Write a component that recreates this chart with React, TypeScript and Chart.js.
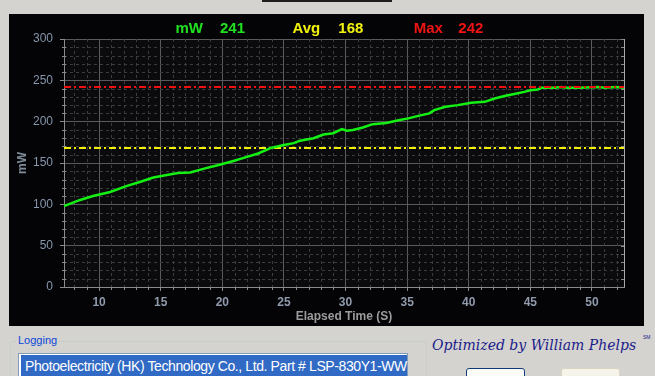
import React, { useEffect, useRef } from 'react';
import { Chart, registerables } from 'chart.js';

Chart.register(...registerables);

// ---- data ----
const timeSeconds = [7.15, 8.4, 9.5, 10.9, 12.2, 13.3, 14.4, 15.5, 16.4, 17.4, 18.6, 19.7, 20.9, 21.8, 22.9, 24.0, 25.1, 25.8, 26.3, 27.4, 28.2, 29.0, 29.7, 30.1, 30.6, 31.4, 32.2, 33.3, 34.4, 35.1, 35.9, 36.8, 37.2, 38.1, 39.1, 40.2, 41.3, 42.1, 42.9, 43.7, 44.5, 45.0, 45.6, 45.9, 47.0, 47.5, 48.0, 49.0, 50.5, 51.0, 52.0, 52.6];
const powerMw = [98, 105, 110, 115, 122, 127, 132.5, 135.5, 138, 138.5, 143.5, 147.5, 152.5, 156.5, 161.5, 168.5, 172, 174, 177, 180, 184.5, 186, 191, 189, 190, 193, 197, 198.5, 202, 204, 207, 210, 214, 218, 220, 223, 224, 228, 231, 233.5, 236, 238, 239, 241, 241, 242, 241, 241, 242, 241, 242, 241];
const currentMw = 241;
const avgMw = 168;
const maxMw = 242;
const xMin = 7.15;
const xMax = 52.6;
const yMin = 0;
const yMax = 300;
const xMajorTicks = [10, 15, 20, 25, 30, 35, 40, 45, 50];
const xMinorTicks = [8, 9, 11, 12, 13, 14, 16, 17, 18, 19, 21, 22, 23, 24, 26, 27, 28, 29, 31, 32, 33, 34, 36, 37, 38, 39, 41, 42, 43, 44, 46, 47, 48, 49, 51, 52];
const yMajorTicks = [0, 50, 100, 150, 200, 250, 300];
const yMinorTicks = [10, 20, 30, 40, 60, 70, 80, 90, 110, 120, 130, 140, 160, 170, 180, 190, 210, 220, 230, 240, 260, 270, 280, 290];
const xTitle = 'Elapsed Time (S)';
const yTitle = 'mW';
const loggingText = 'Photoelectricity (HK) Technology Co., Ltd. Part # LSP-830Y1-WW';

const FONT = '"Liberation Sans", Arial, sans-serif';

const panelPlugin = {
  id: 'panelPlugin',
  beforeDraw(chart: any) {
    const { ctx, chartArea: a, width, height } = chart;
    ctx.save();
    ctx.fillStyle = '#040407';
    ctx.fillRect(0, 0, width, height);
    ctx.fillStyle = '#0b0b0e';
    ctx.fillRect(a.left, a.top, a.right - a.left, a.bottom - a.top);
    ctx.restore();
  },
  beforeDatasetsDraw(chart: any) {
    const { ctx, chartArea: a, scales } = chart;
    const x = scales.x;
    const y = scales.y;
    ctx.save();
    ctx.lineWidth = 1;
    ctx.strokeStyle = '#3c3c3c';
    ctx.setLineDash([3, 3]);
    for (const v of xMinorTicks) {
      const px = Math.round(x.getPixelForValue(v)) + 0.5;
      ctx.beginPath();
      ctx.moveTo(px, a.top);
      ctx.lineTo(px, a.bottom);
      ctx.stroke();
    }
    for (const v of yMinorTicks) {
      const py = Math.round(y.getPixelForValue(v)) + 0.5;
      ctx.beginPath();
      ctx.moveTo(a.left, py);
      ctx.lineTo(a.right, py);
      ctx.stroke();
    }
    ctx.setLineDash([]);
    ctx.strokeStyle = '#8a8a8a';
    for (const v of xMinorTicks) {
      const px = Math.round(x.getPixelForValue(v)) + 0.5;
      ctx.beginPath();
      ctx.moveTo(px, a.bottom);
      ctx.lineTo(px, a.bottom + 3);
      ctx.stroke();
    }
    for (const v of yMinorTicks) {
      const py = Math.round(y.getPixelForValue(v)) + 0.5;
      ctx.beginPath();
      ctx.moveTo(a.left - 2, py);
      ctx.lineTo(a.left + 2, py);
      ctx.stroke();
    }
    for (const v of [...yMinorTicks, ...yMajorTicks]) {
      const py = Math.round(y.getPixelForValue(v)) + 0.5;
      ctx.beginPath();
      ctx.moveTo(a.right - 3, py);
      ctx.lineTo(a.right, py);
      ctx.stroke();
    }
    ctx.strokeStyle = '#a8a8a8';
    const rx = Math.round(a.right) + 0.5;
    ctx.beginPath();
    ctx.moveTo(rx, a.top);
    ctx.lineTo(rx, a.bottom);
    ctx.stroke();
    ctx.restore();
  },
};

function PowerChart() {
  const ref = useRef<HTMLCanvasElement | null>(null);
  useEffect(() => {
    if (!ref.current) return;
    const chart = new Chart(ref.current, {
      type: 'line',
      data: {
        datasets: [
          {
            label: 'Max',
            data: [{ x: xMin, y: maxMw }, { x: xMax, y: maxMw }],
            borderColor: '#f01010',
            borderWidth: 2,
            borderDash: [7, 3, 2, 3],
            pointRadius: 0,
          },
          {
            label: 'mW',
            data: timeSeconds.map((t, i) => ({ x: t, y: powerMw[i] })),
            borderColor: '#14f014',
            borderWidth: 2.5,
            pointRadius: 0,
            tension: 0,
          },
          {
            label: 'Avg',
            data: [{ x: xMin, y: avgMw }, { x: xMax, y: avgMw }],
            borderColor: '#f0f000',
            borderWidth: 2,
            borderDash: [7, 3, 2, 3],
            pointRadius: 0,
          },
        ],
      },
      options: {
        animation: false,
        responsive: true,
        maintainAspectRatio: false,
        layout: { padding: { top: 25, right: 20, bottom: 0, left: 0 } },
        plugins: { legend: { display: false }, tooltip: { enabled: false } },
        scales: {
          x: {
            type: 'linear',
            min: xMin,
            max: xMax,
            afterBuildTicks: (s: any) => {
              s.ticks = xMajorTicks.map((v) => ({ value: v }));
            },
            afterFit: (s: any) => {
              s.height = 39;
            },
            grid: { color: '#5a5a5a', lineWidth: 1, tickLength: 4, tickColor: '#8a8a8a' },
            border: { color: '#8a8a8a', width: 1 },
            ticks: {
              color: '#8f9aab',
              font: { family: FONT, size: 12, weight: 'bold' },
              padding: 4,
              autoSkip: false,
              maxRotation: 0,
            },
            title: {
              display: true,
              text: xTitle,
              color: '#9c9c9c',
              font: { family: FONT, size: 12, weight: 'bold' },
              padding: { top: 0, bottom: 2.5 },
            },
          },
          y: {
            type: 'linear',
            min: yMin,
            max: yMax,
            afterBuildTicks: (s: any) => {
              s.ticks = yMajorTicks.map((v) => ({ value: v }));
            },
            afterFit: (s: any) => {
              s.width = 55;
            },
            grid: { color: '#5a5a5a', lineWidth: 1, tickLength: 4, tickColor: '#8a8a8a' },
            border: { color: '#8a8a8a', width: 1 },
            ticks: {
              color: '#8796aa',
              font: { family: FONT, size: 12 },
              padding: 7,
            },
            title: {
              display: true,
              text: yTitle,
              color: '#7f8c9a',
              font: { family: FONT, size: 12, weight: 'bold' },
              padding: { top: 6.5, bottom: 0 },
            },
          },
        },
      },
      plugins: [panelPlugin],
    } as any);
    return () => chart.destroy();
  }, []);
  return (
    <div style={{ position: 'absolute', left: 0, top: 0, width: 635, height: 312 }}>
      <canvas ref={ref} />
    </div>
  );
}

const headerItems = [
  { text: 'mW', left: 166.5, color: '#22e022' },
  { text: String(currentMw), left: 211, color: '#22e022' },
  { text: 'Avg', left: 283.5, color: '#f2f20c' },
  { text: String(avgMw), left: 329.3, color: '#f2f20c' },
  { text: 'Max', left: 404.7, color: '#f01414' },
  { text: String(maxMw), left: 449.3, color: '#f01414' },
];

export default function App() {
  return (
    <div
      style={{
        position: 'fixed',
        left: 0,
        top: 0,
        width: 655,
        height: 376,
        overflow: 'hidden',
        background: '#d5d3d0',
        fontFamily: FONT,
      }}
    >
      <div style={{ position: 'absolute', left: 262, top: 0, width: 130, height: 2, background: '#1c1c1c' }} />
      <div style={{ position: 'absolute', left: 9, top: 14, width: 635, height: 312, background: '#040407' }}>
        <PowerChart />
        {headerItems.map((h) => (
          <span
            key={h.text + h.left}
            style={{
              position: 'absolute',
              left: h.left,
              top: 5.8,
              color: h.color,
              font: `bold 15px ${FONT}`,
              lineHeight: '15px',
              whiteSpace: 'nowrap',
            }}
          >
            {h.text}
          </span>
        ))}
      </div>
      {/* Logging group box */}
      <div
        style={{
          position: 'absolute',
          left: 10,
          top: 341,
          width: 415,
          height: 60,
          border: '1px dotted #b9cdb6',
          borderRadius: 3,
        }}
      />
      <span
        style={{
          position: 'absolute',
          left: 16,
          top: 333,
          padding: '0 2px',
          background: '#d5d3d0',
          color: '#0a46d8',
          font: `11px ${FONT}`,
          lineHeight: '14px',
        }}
      >
        Logging
      </span>
      <div
        style={{
          position: 'absolute',
          left: 18,
          top: 353,
          width: 388,
          height: 30,
          border: '1px solid #7f9db9',
          background: '#ffffff',
        }}
      >
        <div
          style={{
            position: 'absolute',
            left: 2,
            top: 1,
            width: 386,
            height: 28,
            background: '#316ac5',
          }}
        />
        <span
          style={{
            position: 'absolute',
            left: 6,
            top: 2,
            color: '#ffffff',
            font: `14px ${FONT}`,
            letterSpacing: '-0.4px',
            lineHeight: '20px',
            whiteSpace: 'nowrap',
          }}
        >
          {loggingText}
        </span>
      </div>
      <span
        style={{
          position: 'absolute',
          left: 432,
          top: 336,
          color: '#1b1b8a',
          font: `italic 14px "DejaVu Serif", serif`,
          lineHeight: '18px',
          whiteSpace: 'nowrap',
        }}
      >
        Optimized by William Phelps
      </span>
      <span
        style={{
          position: 'absolute',
          left: 643,
          top: 334,
          color: '#1b1b8a',
          font: `5px ${FONT}`,
          lineHeight: '6px',
        }}
      >
        SM
      </span>
      <div
        style={{
          position: 'absolute',
          left: 466,
          top: 368,
          width: 57,
          height: 20,
          border: '1px solid #0f3c78',
          borderRadius: 3,
          background: '#fbfbf8',
        }}
      />
      <div
        style={{
          position: 'absolute',
          left: 561,
          top: 368,
          width: 57,
          height: 20,
          border: '1px solid #dcd5c3',
          borderRadius: 3,
          background: '#f6f3ea',
        }}
      />
    </div>
  );
}
